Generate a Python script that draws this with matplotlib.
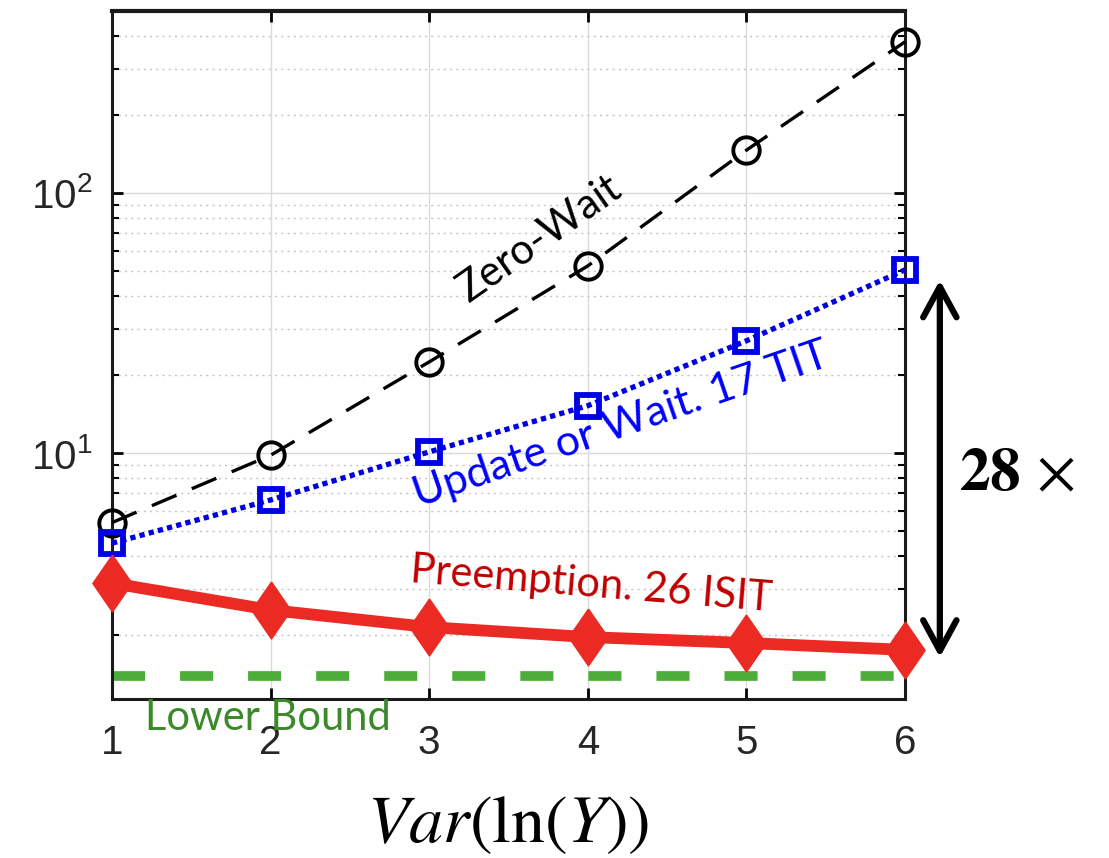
import matplotlib
matplotlib.use("Agg")
import matplotlib.pyplot as plt
from matplotlib.ticker import FixedLocator, FixedFormatter, NullLocator, LogLocator

# datos
var_ln_y = [1, 2, 3, 4, 5, 6]
zero_wait = [5.4, 9.8, 22.4, 52.4, 146, 381]
update_or_wait = [4.5, 6.6, 10.1, 15.2, 27.0, 50.6]
preemption = [3.16, 2.49, 2.14, 1.96, 1.86, 1.75]
lower_bound = 1.39

plt.rcParams["mathtext.fontset"] = "stix"

fig = plt.figure(figsize=(11.09, 8.58), dpi=100)
ax = fig.add_axes([0.101, 0.185, 0.715, 0.802])

ax.set_yscale("log")
ax.set_xlim(1, 6)
ax.set_ylim(1.13, 500)

# rejilla estilo MATLAB
ax.grid(True, which="major", color="#dadada", lw=1.0, ls="-")
ax.grid(True, which="minor", axis="y", color="#c4c4c4", lw=1.0, ls=(0, (1.5, 3)))
ax.set_axisbelow(True)

# curvas
ax.axhline(lower_bound, color="#4cae38", lw=7, ls=(0, (3.4, 3.6)), zorder=2)
ax.plot(var_ln_y, zero_wait, color="black", lw=2.4, ls=(0, (8, 5)),
        marker="o", ms=19, mew=2.8, mfc="none", mec="black", clip_on=False, zorder=3)
ax.plot(var_ln_y, update_or_wait, color="#0000e0", lw=3.8, ls=(0, (1, 0.8)),
        marker="s", ms=16, mew=4.2, mfc="none", mec="#0000e6", clip_on=False, zorder=4)
diamante = [(0, 1), (0.69, 0), (0, -1), (-0.69, 0), (0, 1)]
ax.plot(var_ln_y, preemption, color="#ec2a24", lw=8.5, ls="-",
        marker=diamante, ms=41, mfc="#ec2a24", mec="#ec2a24", clip_on=False, zorder=5)

# ejes
ax.xaxis.set_major_locator(FixedLocator(var_ln_y))
ax.xaxis.set_minor_locator(NullLocator())
ax.yaxis.set_major_locator(FixedLocator([10, 100]))
ax.yaxis.set_major_formatter(FixedFormatter([r"$\mathregular{10^{1}}$", r"$\mathregular{10^{2}}$"]))
ax.yaxis.set_minor_locator(LogLocator(base=10, subs=range(2, 10)))
ax.tick_params(which="both", direction="in", top=True, right=True)
ax.tick_params(which="major", length=8, width=2, labelsize=29, labelcolor="#262626")
ax.tick_params(which="minor", length=5, width=1.5)
ax.tick_params(axis="x", pad=18)
ax.tick_params(axis="y", pad=14)
for lado in ax.spines.values():
    lado.set_linewidth(2.2)
    lado.set_color("#1a1a1a")
ax.spines["top"].set_linewidth(3)
for lbl in ax.get_xticklabels() + ax.get_yticklabels():
    lbl.set_fontfamily("Liberation Sans")

ax.set_xlabel(r"$\mathit{Var}(\mathrm{ln}(\mathit{Y}))$", fontsize=49, labelpad=20)

# etiquetas
fuente = "Lato"
ax.text(0.540, 0.670, "Zero-Wait", transform=ax.transAxes, rotation=35,
        ha="center", va="center", fontsize=30, family=fuente, color="black")
ax.text(0.642, 0.398, "Update or Wait. 17 TIT", transform=ax.transAxes, rotation=19,
        ha="center", va="center", fontsize=31, family=fuente, color="#0000ff")
ax.text(0.604, 0.166, "Preemption. 26 ISIT", transform=ax.transAxes, rotation=-4.6,
        ha="center", va="center", fontsize=30, family=fuente, color="#c00000")
ax.text(0.197, -0.027, "Lower Bound", transform=ax.transAxes,
        ha="center", va="center", fontsize=30, family=fuente, color="#3a8a2a")

# flecha del factor
ax.annotate("", xy=(1.044, 0.061), xytext=(1.044, 0.609), xycoords="axes fraction",
            textcoords="axes fraction", annotation_clip=False,
            arrowprops=dict(arrowstyle="<->,head_length=1.1,head_width=0.6",
                            lw=4.5, color="black", mutation_scale=20,
                            shrinkA=0, shrinkB=0))
ax.text(1.141, 0.327, r"$\mathbf{28}\,\times$", transform=ax.transAxes,
        ha="center", va="center", fontsize=44, color="black")

fig.savefig("out.png", dpi=100)
